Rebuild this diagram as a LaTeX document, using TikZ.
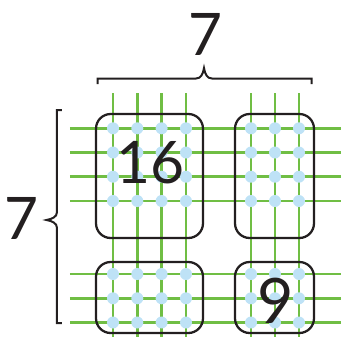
\documentclass[tikz,border=0pt]{standalone}
\usepackage{fontspec}
\setmainfont{Lato}
\usepackage{tikz}
\definecolor{gridgreen}{RGB}{112,190,68}
\definecolor{dotblue}{RGB}{190,226,246}
\definecolor{inkblack}{RGB}{35,31,32}
\newcommand{\bignum}{\fontsize{44}{44}\selectfont}
\newcommand{\tallnum}{\fontsize{47}{47}\selectfont}

\begin{document}
\begin{tikzpicture}[x=0.75pt, y=-0.75pt,
 gridline/.style={gridgreen,line width=2pt},
 dot/.style={fill=dotblue},
 groupbox/.style={draw=inkblack,line width=1.7pt,rounded corners=11pt},
 bracket/.style={draw=inkblack,line width=1.5pt},
 num/.style={inkblack,inner sep=0pt,font=\bignum}]
\useasboundingbox (0,0) rectangle (344,337);
% grid lines
\foreach \gx in {113,137.3,161.6,186,251,275,299}
  \draw[gridline] (\gx,93) -- (\gx,337);
\foreach \gy in {128.3,152.5,176.7,201,274,298.3,322.5}
  \draw[gridline] (70,\gy) -- (341,\gy);
% dots at crossings
\foreach \gx in {113,137.3,161.6,186,251,275,299}
  \foreach \gy in {128.3,152.5,176.7,201,274,298.3,322.5}
    \fill[dot] (\gx,\gy) circle (6);
% boxes
\draw[groupbox] (96,114) rectangle (203,238);
\draw[groupbox] (235,114) rectangle (314,238);
\draw[groupbox] (96,262) rectangle (203,333);
\draw[groupbox] (235,262) rectangle (314,333);
% braces
\draw[bracket] (97.7,84) -- (97.7,78.5) -- (196,78.5)
  .. controls (201,78.5) and (203,74) .. (204,68)
  .. controls (205,74) and (207,78.5) .. (212,78.5)
  -- (311.7,78.5) -- (311.7,84);
\draw[bracket] (62,110) -- (57,110) -- (57,212)
  .. controls (57,217) and (52,219) .. (46.5,220)
  .. controls (52,221) and (57,223) .. (57,228)
  -- (57,323) -- (62,323);
% labels
\node[num] (top) at (206,34) {7};
\node[num] (side) at (22,218) {7};
\node[num] (big) at (151,163) {16};
\node[num,font=\tallnum] (small) at (276,301) {9};
\end{tikzpicture}
\end{document}
